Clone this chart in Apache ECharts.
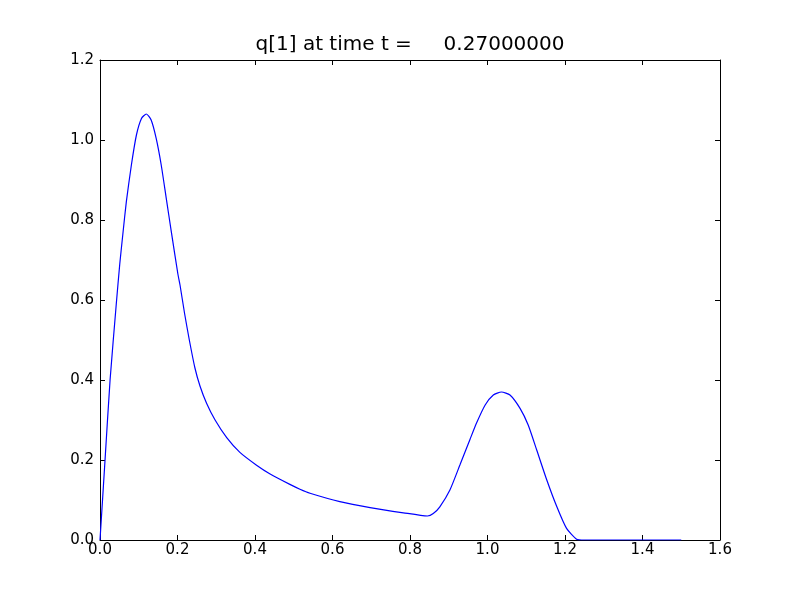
<!DOCTYPE html>
<html><head><meta charset="utf-8">
<script src="https://cdn.jsdelivr.net/npm/echarts@6/dist/echarts.min.js"></script>
<style>html,body{margin:0;padding:0;background:#fff}#c{width:800px;height:600px}</style>
</head><body><div id="c"></div>
<script>
const titleText = 'q[1] at time t =     0.27000000';
const xValues = [0, 0.013, 0.026, 0.042, 0.051, 0.059, 0.068, 0.081, 0.094, 0.107, 0.1195, 0.132, 0.145, 0.158, 0.171, 0.184, 0.201, 0.2065, 0.2185, 0.2305, 0.245, 0.258, 0.275, 0.297, 0.327, 0.361, 0.404, 0.439, 0.49, 0.516, 0.542, 0.619, 0.697, 0.783, 0.845, 0.86, 0.877, 0.903, 0.929, 0.955, 0.972, 0.994, 1.015, 1.036, 1.058, 1.084, 1.105, 1.127, 1.153, 1.179, 1.204, 1.23, 1.25, 1.35, 1.5];
const yValues = [0, 0.2, 0.4, 0.59, 0.69, 0.765, 0.846, 0.9375, 1.0125, 1.054, 1.065, 1.05, 1.004, 0.9375, 0.854, 0.771, 0.665, 0.6375, 0.565, 0.5, 0.43, 0.385, 0.342, 0.3, 0.256, 0.219, 0.187, 0.165, 0.139, 0.127, 0.117, 0.096, 0.081, 0.068, 0.06, 0.066, 0.083, 0.125, 0.188, 0.252, 0.293, 0.3375, 0.3625, 0.37, 0.3625, 0.329, 0.2875, 0.225, 0.15, 0.083, 0.029, 0.002, 0, 0, 0];

const chart = echarts.init(document.getElementById('c'), null, {renderer: 'canvas'});
const font = 'DejaVu Sans';
const axisCommon = {
  type: 'value',
  axisLine: {show: true, onZero: false, lineStyle: {color: '#000', width: 1}},
  axisTick: {show: true, inside: true, length: 5, lineStyle: {color: '#000'}},
  splitLine: {show: false},
};
chart.setOption({
  animation: false,
  backgroundColor: '#fff',
  title: {
    text: titleText, left: 405, top: 30, textAlign: 'center',
    textStyle: {fontFamily: font, fontSize: 20, fontWeight: 'normal', color: '#000'}
  },
  grid: {left: 100, right: 80, top: 60, bottom: 60, containLabel: false},
  xAxis: [
    Object.assign({}, axisCommon, {min: 0, max: 1.6, interval: 0.2, position: 'bottom',
      axisLabel: {fontFamily: font, fontSize: 15, color: '#000', margin: 3, formatter: v => v.toFixed(1)}}),
    Object.assign({}, axisCommon, {min: 0, max: 1.6, interval: 0.2, position: 'top', axisLabel: {show: false}})
  ],
  yAxis: [
    Object.assign({}, axisCommon, {min: 0, max: 1.2, interval: 0.2, position: 'left',
      axisLabel: {fontFamily: font, fontSize: 15, color: '#000', margin: 6, formatter: v => v.toFixed(1)}}),
    Object.assign({}, axisCommon, {min: 0, max: 1.2, interval: 0.2, position: 'right', axisLabel: {show: false}})
  ],
  series: [{
    type: 'line', xAxisIndex: 0, yAxisIndex: 0,
    data: xValues.map((x, i) => [x, yValues[i]]),
    showSymbol: false, smooth: 0.2,
    lineStyle: {color: '#0000ff', width: 1.2},
    itemStyle: {color: '#0000ff'}
  }]
});
</script></body></html>
